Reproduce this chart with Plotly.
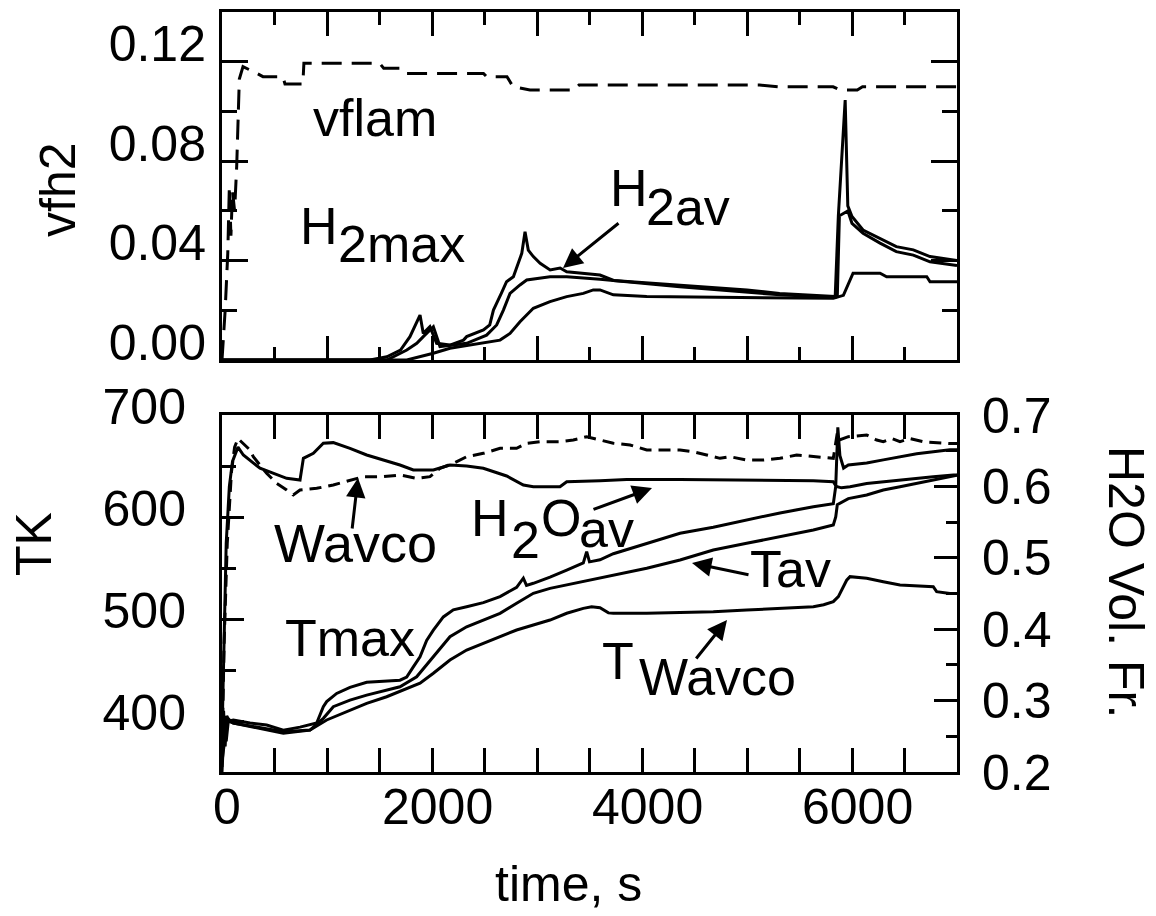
import plotly.graph_objects as go

W, H = 1156, 916
FONT = "Liberation Sans, Arial, sans-serif"

# ---------------- top panel (vfh2) ----------------
t_vflam = [0, 30, 55, 70, 85, 100, 120, 140, 165, 200, 300, 390, 580, 600, 770, 780, 1500, 1540,
           1700, 1745, 2490, 2520, 2714, 2771, 2933, 3350, 3400, 5120, 5310, 5820, 5890, 6050, 6100, 7000]
vflam = [0.0, 0.02, 0.043, 0.07, 0.05, 0.068, 0.06, 0.078, 0.113, 0.118, 0.116, 0.114, 0.114, 0.111,
         0.111, 0.1194, 0.1194, 0.1174, 0.1174, 0.1153, 0.1153, 0.114, 0.114, 0.110, 0.1086, 0.1086,
         0.1106, 0.1106, 0.1099, 0.1099, 0.1086, 0.1086, 0.1099, 0.1099]

t_h2max = [0, 1410, 1570, 1700, 1790, 1840, 1886, 1917, 1980, 2013, 2044, 2170, 2300, 2330, 2490,
           2550, 2585, 2660, 2710, 2775, 2855, 2886, 2917, 2965, 3030, 3125, 3220, 3283, 3440, 3600,
           3730, 4360, 5000, 5310, 5840, 5870, 5935, 5960, 6000, 6105, 6267, 6422, 6584, 6743, 6965, 7000]
h2max = [0, 0, 0.0013, 0.004, 0.0094, 0.0141, 0.0181, 0.0107, 0.0134, 0.0100, 0.0067, 0.006, 0.008,
         0.0094, 0.0121, 0.0141, 0.0201, 0.0268, 0.0315, 0.0335, 0.0429, 0.0516, 0.0442, 0.0416,
         0.0389, 0.0362, 0.037, 0.0355, 0.0349, 0.0342, 0.032, 0.0302, 0.0282, 0.0268, 0.0255, 0.058,
         0.1046, 0.062, 0.0577, 0.0523, 0.049, 0.0456, 0.0443, 0.0416, 0.0402, 0.040]

t_h2av = [0, 1570, 1760, 1855, 1917, 1981, 2013, 2076, 2330, 2520, 2616, 2680, 2743, 2838, 2902,
          3124, 3283, 3600, 4360, 5314, 5822, 5860, 5880, 5960, 6000, 6105, 6267, 6422, 6584, 6743,
          6965, 7000]
h2av = [0, 0, 0.004, 0.0067, 0.0094, 0.0121, 0.0134, 0.0054, 0.0067, 0.0100, 0.0141, 0.0201, 0.0268,
        0.0302, 0.0322, 0.0335, 0.0335, 0.0325, 0.0295, 0.0262, 0.0251, 0.0255, 0.058, 0.060, 0.055,
        0.051, 0.047, 0.0436, 0.0422, 0.0395, 0.0382, 0.038]

t_h2wav = [0, 1760, 2013, 2171, 2648, 2743, 2838, 2965, 3124, 3283, 3441, 3536, 3600, 3727, 4045,
           5822, 5918, 6010, 6267, 6330, 6712, 6743, 7000]
h2wav = [0, 0, 0.0027, 0.0047, 0.008, 0.0107, 0.0154, 0.0208, 0.0235, 0.0255, 0.0268, 0.0282, 0.0282,
         0.0262, 0.0255, 0.0248, 0.026, 0.0349, 0.0349, 0.0335, 0.0335, 0.0315, 0.0315]

# ---------------- bottom panel (TK, H2O Vol. Fr.) ----------------
t_tmax = [0, 15, 30, 45, 70, 108, 267, 425, 584, 743, 902, 965, 997, 1092, 1219, 1378, 1695, 1759,
          1822, 1886, 1949, 2013, 2108, 2203, 2330, 2489, 2648, 2806, 2870, 2900, 2965, 3124, 3283,
          3441, 3473, 3500, 3600, 3727, 4045, 4362, 4679, 4997, 5314, 5632, 5822, 5845, 5865, 5885,
          5920, 5965, 6140, 6298, 6457, 6616, 6774, 6933, 7000]
tmax = [355, 410, 375, 405, 400, 401, 398, 396, 391, 394, 398, 414, 419, 427, 433, 438, 440, 443, 453,
        463, 479, 489, 502, 509, 512, 516, 522, 531, 540, 533, 535, 541, 548, 555, 566, 556, 558, 564,
        574, 584, 590, 597, 604, 610, 613, 630, 688, 660, 648, 651, 653, 656, 659, 662, 664, 666, 666]

t_tav = [0, 20, 40, 60, 108, 584, 838, 965, 1060, 1219, 1378, 1695, 1854, 2013, 2171, 2330, 2489,
         2648, 2806, 2965, 3124, 3283, 3441, 3600, 3727, 4045, 4362, 4679, 4997, 5314, 5632, 5822,
         5845, 5860, 5965, 6140, 6298, 6457, 6616, 6774, 6965, 7000]
tav = [350, 395, 380, 400, 398, 388, 391, 402.6, 414, 420.5, 425.4, 433.5, 443.3, 463, 482.6, 492.4,
       499, 505.6, 515.4, 525.2, 530, 533.3, 536.6, 540, 543, 549.7, 557.8, 567.6, 574.2, 580.7, 587.3,
       592.2, 600, 612, 618, 621.6, 626.5, 629.7, 633, 636.3, 641, 641]

t_twavco = [0, 30, 60, 108, 584, 838, 997, 1219, 1378, 1568, 1759, 1886, 2013, 2171, 2330, 2489, 2648,
            2806, 2965, 3124, 3283, 3441, 3520, 3600, 3680, 3727, 4045, 4362, 4679, 4997, 5314, 5632,
            5730, 5822, 5870, 5949, 5981, 6140, 6298, 6457, 6774, 6806, 6933, 7000]
twavco = [360, 385, 402, 398, 389.5, 391.2, 401, 410.8, 417.3, 423.8, 432, 437, 446.8, 459.8, 469.6,
          476.2, 482.6, 489.2, 494.1, 499, 505.6, 510.4, 512, 511, 506, 505.6, 505.6, 506.2, 507.2,
          508.8, 510.4, 512, 514, 517, 522, 538, 541.5, 540, 536.6, 533.3, 531.7, 526.8, 525, 525]

t_h2oav = [0, 20, 40, 70, 100, 152, 203, 362, 489, 616, 743, 759, 775, 870, 965, 1060, 1219, 1378,
           1536, 1695, 1822, 2013, 2171, 2330, 2489, 2584, 2711, 2870, 2965, 3219, 3283, 3600, 3854,
           4362, 4997, 5632, 5822, 5850, 5900, 5981, 6140, 6298, 6457, 6774, 6965, 7000]
h2oav = [0.25, 0.40, 0.52, 0.60, 0.635, 0.655, 0.644, 0.6254, 0.6183, 0.6113, 0.609, 0.6276, 0.6393,
         0.6463, 0.6604, 0.6613, 0.6533, 0.644, 0.637, 0.63, 0.623, 0.623, 0.63, 0.6286, 0.6254, 0.6206,
         0.6146, 0.602, 0.5996, 0.5996, 0.6066, 0.608, 0.6095, 0.6095, 0.609, 0.608, 0.6066, 0.600,
         0.598, 0.5996, 0.604, 0.6066, 0.609, 0.6136, 0.616, 0.616]

t_wavco = [0, 20, 50, 90, 120, 152, 267, 298, 425, 521, 616, 679, 743, 902, 1060, 1219, 1346, 1536,
           1695, 1854, 1981, 2076, 2203, 2330, 2489, 2648, 2806, 2902, 3029, 3219, 3346, 3473, 3600,
           3727, 3886, 3981, 4045, 4362, 4489, 4616, 4743, 4838, 4997, 5155, 5314, 5473, 5632, 5822,
           5860, 5880, 5965, 6140, 6235, 6298, 6380, 6457, 6550, 6700, 6933, 7000]
wavco = [0.22, 0.38, 0.52, 0.62, 0.655, 0.667, 0.651, 0.6416, 0.6183, 0.6043, 0.595, 0.588, 0.595,
         0.5973, 0.602, 0.609, 0.6136, 0.6136, 0.616, 0.6113, 0.6136, 0.6254, 0.6323, 0.6416, 0.6463,
         0.6533, 0.6533, 0.6604, 0.6626, 0.6626, 0.665, 0.6696, 0.665, 0.6604, 0.658, 0.6533, 0.651,
         0.651, 0.6486, 0.644, 0.6393, 0.6416, 0.637, 0.637, 0.6393, 0.644, 0.6416, 0.6393, 0.675,
         0.665, 0.6696, 0.672, 0.665, 0.6626, 0.667, 0.6626, 0.667, 0.662, 0.660, 0.660]

# ---------------- ticks ----------------
x_major = [0, 1000, 2000, 3000, 4000, 5000, 6000, 7000]
x_label_vals = [0, 2000, 4000, 6000]
x_label_text = ["0", "2000", "4000", "6000"]
y1_major = [0.0, 0.04, 0.08, 0.12]
y1_text = ["0.00", "0.04", "0.08", "0.12"]
y2_major = [400, 500, 600, 700]
y3_major = [0.2, 0.3, 0.4, 0.5, 0.6, 0.7]
y3_text = ["0.2", "0.3", "0.4", "0.5", "0.6", "0.7"]


def fx(p):
    return p / W


def fy(p):
    return 1 - p / H


LINE = dict(color="black", width=3)
fig = go.Figure()
fig.add_trace(go.Scatter(x=t_vflam, y=vflam, xaxis="x", yaxis="y", mode="lines", name="vflam",
                         line=dict(color="black", width=3, dash="20px,10px")))
fig.add_trace(go.Scatter(x=t_h2max, y=h2max, xaxis="x", yaxis="y", mode="lines", name="H2max", line=LINE))
fig.add_trace(go.Scatter(x=t_h2av, y=h2av, xaxis="x", yaxis="y", mode="lines", name="H2av", line=LINE))
fig.add_trace(go.Scatter(x=t_h2wav, y=h2wav, xaxis="x", yaxis="y", mode="lines", name="H2 Wavco", line=LINE))

fig.add_trace(go.Scatter(x=t_tmax, y=tmax, xaxis="x2", yaxis="y2", mode="lines", name="Tmax", line=LINE))
fig.add_trace(go.Scatter(x=t_tav, y=tav, xaxis="x2", yaxis="y2", mode="lines", name="Tav", line=LINE))
fig.add_trace(go.Scatter(x=t_twavco, y=twavco, xaxis="x2", yaxis="y2", mode="lines", name="TWavco", line=LINE))
fig.add_trace(go.Scatter(x=t_h2oav, y=h2oav, xaxis="x2", yaxis="y3", mode="lines", name="H2Oav", line=LINE))
fig.add_trace(go.Scatter(x=t_wavco, y=wavco, xaxis="x2", yaxis="y3", mode="lines", name="Wavco",
                         line=dict(color="black", width=3, dash="12px,7px")))

TF = dict(family=FONT, size=50, color="black")
common = dict(showline=True, linecolor="black", linewidth=3, ticks="inside", tickcolor="black",
              tickwidth=3, showgrid=False, zeroline=False, tickfont=TF, automargin=False)
XDOM = [fx(222), fx(957)]

fig.update_layout(
    width=W, height=H, margin=dict(l=0, r=0, t=0, b=0, pad=0, autoexpand=False),
    paper_bgcolor="white", plot_bgcolor="white", showlegend=False,
    font=dict(family=FONT, color="black"),
    xaxis=dict(domain=XDOM, anchor="y", range=[0, 7000], tickmode="array", tickvals=x_major,
               ticklen=24, mirror="allticks", showticklabels=False,
               minor=dict(dtick=500, tick0=0, ticks="inside", ticklen=13, tickwidth=3, tickcolor="black"),
               **common),
    yaxis=dict(domain=[fy(360), fy(12)], anchor="x", range=[0, 0.14], tickmode="array",
               tickvals=y1_major, ticktext=y1_text, ticklen=26, mirror="allticks",
               ticklabelshift=-18, ticklabelstandoff=3,
               minor=dict(dtick=0.02, tick0=0, ticks="inside", ticklen=15, tickwidth=3, tickcolor="black"),
               **common),
    xaxis2=dict(domain=XDOM, anchor="y2", range=[0, 7000], tickmode="array", tickvals=x_major,
                ticklen=24, mirror="allticks", showticklabels=False,
                minor=dict(dtick=500, tick0=0, ticks="inside", ticklen=13, tickwidth=3, tickcolor="black"),
                **common),
    yaxis2=dict(domain=[fy(772), fy(415)], anchor="x2", range=[350, 700], tickmode="array",
                tickvals=y2_major, ticklen=22, ticklabelshift=-9, ticklabelstandoff=23,
                minor=dict(dtick=50, tick0=0, ticks="inside", ticklen=14, tickwidth=3, tickcolor="black"),
                **common),
    yaxis3=dict(overlaying="y2", side="right", anchor="x2", range=[0.2, 0.7], tickmode="array",
                tickvals=y3_major, ticktext=y3_text, ticklen=23, ticklabelstandoff=12,
                minor=dict(dtick=0.05, tick0=0, ticks="inside", ticklen=11, tickwidth=3, tickcolor="black"),
                **common),
)

# time-axis tick labels, placed on the x2 scale
for v, t in zip(x_label_vals, x_label_text):
    fig.add_annotation(text=t, x=v, xref="x2", y=fy(807), yref="paper", showarrow=False,
                       xanchor="center", yanchor="middle", xshift=5, font=TF)


def label(text, cx, cy, size=52, angle=0):
    fig.add_annotation(text=text, x=fx(cx), y=fy(cy), xref="paper", yref="paper", showarrow=False,
                       xanchor="center", yanchor="middle", textangle=angle,
                       font=dict(family=FONT, size=size, color="black"))


def arrow(hx, hy, tx, ty):
    fig.add_annotation(text="", x=fx(hx), y=fy(hy), xref="paper", yref="paper", showarrow=True,
                       ax=tx - hx, ay=ty - hy, arrowhead=2, arrowsize=1.3, arrowwidth=3,
                       arrowcolor="black")


# axis titles
label("vfh2", 58, 190, 50, -90)
label("TK", 34, 544, 50, -90)
label("H2O Vol. Fr.", 1126, 582, 50, 90)
label("time, s", 568, 884, 50)

# top panel curve labels
label("vflam", 375, 118)
label("H", 319, 226)
label("2max", 401, 244)
label("H", 629, 188)
label("2av", 688, 207)
arrow(563, 268, 620, 222)

# bottom panel curve labels
label("Wavco", 355, 543, 54)
arrow(358, 478, 352, 530)
label("Tmax", 350, 638)
label("H", 490, 518)
label("2", 525, 540)
label("O", 561, 518)
label("av", 606, 529)
arrow(652, 488, 592, 510)
label("Tav", 790, 569)
arrow(692, 563, 750, 575)
label("T", 618, 661)
label("Wavco", 717, 677)
arrow(727, 620, 695, 660)

fig.write_html("out.html")
